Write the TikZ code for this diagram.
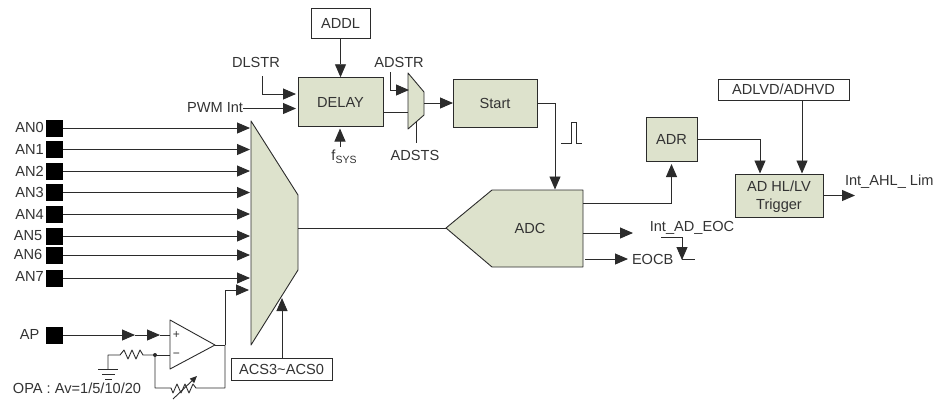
\documentclass[tikz,border=0pt]{standalone}
\usepackage{fontspec}
\setmainfont{Liberation Sans}
\usetikzlibrary{arrows.meta,calc}
\definecolor{lineC}{HTML}{2B2B2B}
\definecolor{fillC}{HTML}{DDE2CC}
\definecolor{textC}{HTML}{333333}
\tikzset{
  base/.style={inner sep=0pt,outer sep=0pt,font=\fontsize{14.6}{16}\selectfont,text=textC},
  block/.style={base,draw=lineC,line width=0.9pt,fill=fillC,align=center},
  regbox/.style={base,draw=lineC,line width=0.9pt,fill=white},
  lbl/.style={base},
  pin/.style={base,fill=black,minimum width=17pt,minimum height=17pt},
  conn/.style={draw=lineC,line width=0.9pt},
  arr/.style={conn,-{Triangle[length=13pt,width=11pt]}},
  shp/.style={draw=lineC,line width=0.9pt,fill=fillC,line join=round},
}
\newcommand{\boxat}[7]{\node[#1,minimum width=#4pt,minimum height=#5pt] (#2) at (#6,#7) {#3};}
\begin{document}
\begin{tikzpicture}[x=1pt,y=-1pt]
\useasboundingbox (0,0) rectangle (934,400);
% pins
\foreach \n/\y/\lx/\ly in {0/128/29.5/127,1/149.5/29.5/149,2/171/29.5/171,3/192.5/29.5/192,4/214/29.5/214,5/236/28/235.5,6/255/28/254,7/278/29.5/276}{
  \node[pin] (pin\n) at (54.5,\y) {};
  \node[lbl] (lab\n) at (\lx,\ly) {AN\n};
  \coordinate (in\n) at (250,\y);
  \draw[arr] (pin\n.east |- in\n) -- (in\n);
}
\node[pin] (pinP) at (54.5,335) {};
\node[lbl] (labP) at (29.5,334) {AP};
% mux
\coordinate (m1) at (251,121);\coordinate (m2) at (298,195);\coordinate (m3) at (298,270);\coordinate (m4) at (251,345);
\draw[shp] (m1)--(m2)--(m3)--(m4)--cycle;
\coordinate (mout) at (298,228);
% ADC
\coordinate (adcTip) at (446,228);
\draw[shp] (adcTip)--(492,190)--(583,190)--(583,267)--(492,267)--cycle;
\node[lbl] (adc) at (530,228) {ADC};
\draw[conn] (mout)--(adcTip);
% boxes
\boxat{regbox}{addl}{ADDL}{59}{30}{340.5}{23}
\boxat{block}{delay}{DELAY}{85}{49.5}{340.5}{102}
\boxat{block}{start}{Start}{84}{48}{495}{103}
\boxat{block}{adr}{ADR}{51}{44}{671.5}{139}
\boxat{regbox}{adlvd}{ADLVD/ADHVD}{131}{21}{783.5}{89.5}
\boxat{block}{trig}{\rule{0pt}{13pt}AD HL/LV\\[2pt]Trigger}{88}{43}{779}{195.5}
\boxat{regbox}{acs}{ACS3\textasciitilde ACS0}{101}{22}{281.5}{369}
% labels
\node[lbl] (dlstr) at (256,62) {DLSTR};
\node[lbl,anchor=east] (pwm) at (243,108) {PWM Int};
\node[lbl] (fsys) at (344,157) {f\raisebox{-2.5pt}{\fontsize{10.5}{12}\selectfont SYS}};
\node[lbl] (adstr) at (399,62) {ADSTR};
\node[lbl] (adsts) at (415,155) {ADSTS};
\node[lbl,anchor=west] (iahl) at (845,182) {Int\_AHL\_ Lim};
\node[lbl] (iad) at (692,228) {Int\_AD\_EOC};
\node[lbl,anchor=west] (eocb) at (632,259) {EOCB};
\node[lbl] (opa) at (77,388) {OPA : Av=1/5/10/20};
% top connectors
\draw[arr] (addl.south)--(delay.north);
\coordinate (dl0) at (262,76);\coordinate (dlIn) at (296,94);
\draw[arr] (dl0)|-(dlIn);
\coordinate (pwmIn) at (296,108.5);
\draw[arr] (pwm.east |- pwmIn)--(pwmIn);
\coordinate (fsTop) at (340,147);\coordinate (fsEnd) at (340,128.5);
\draw[arr] (fsTop)--(fsEnd);
% mux2
\coordinate (a1) at (408,73);\coordinate (a2) at (424,92);\coordinate (a3) at (424,115);\coordinate (a4) at (408,129);
\draw[shp] (a1)--(a2)--(a3)--(a4)--cycle;
\coordinate (aIn) at (408,112);
\draw[conn] (delay.east |- aIn)--(aIn);
\coordinate (as0) at (390.5,72);\coordinate (asIn) at (409,90);
\draw[arr] (as0)|-(asIn);
\coordinate (st0) at (416,122);\coordinate (st1) at (416,143);
\draw[conn] (st0)--(st1);
\coordinate (aOut) at (424,103);
\draw[arr] (aOut)--(start.west |- aOut);
% start to adc
\coordinate (adcIn) at (555,189.5);
\draw[arr] (start.east) -| (adcIn);
\coordinate (p0) at (561,143.5);
\draw[conn] (p0)--++(10,0)--++(0,-21.5)--++(5,0)--++(0,21.5)--++(6,0);
% adc outputs
\coordinate (adcA) at (583,203);\coordinate (adrIn) at (671.5,164);
\draw[arr] (adcA) -| (adrIn);
\coordinate (o1a) at (583,233);\coordinate (o1b) at (633,233);
\draw[arr] (o1a)--(o1b);
\coordinate (o2a) at (585,259);\coordinate (o2b) at (628,259);
\draw[arr] (o2a)--(o2b);
\coordinate (eoc0) at (661,237);\coordinate (eoc1) at (682,260);\coordinate (eoc2) at (695,259);
\draw[conn] (eoc0)--(682,237);
\draw[arr] (682,237)--(eoc1);
\draw[conn] (682,259)--(eoc2);
% trigger
\coordinate (trA) at (760,173.5);
\draw[arr] (adr.east) -| (trA);
\coordinate (trB) at (802,173.5);
\draw[arr] (adlvd.south -| trB)--(trB);
\coordinate (trOut) at (855,195.5);
\draw[arr] (trig.east)--(trOut);
% ACS
\coordinate (acsEnd) at (282,298);
\draw[arr] (acs.north -| acsEnd)--(acsEnd);
% opamp
\coordinate (o1) at (170,320);\coordinate (o2) at (215,345);\coordinate (o3) at (170,369);
\draw[draw=lineC,line width=0.9pt,fill=white,line join=round] (o1)--(o2)--(o3)--cycle;
\node[base,font=\fontsize{12}{12}\selectfont] (plus) at (176.5,335) {+};
\node[base,font=\fontsize{12}{12}\selectfont] (minus) at (176.5,355) {\textminus};
\coordinate (ap1) at (135,335);\coordinate (ap2) at (160,335);\coordinate (ap3) at (170,335);
\draw[arr] (pinP.east)--(ap1);
\draw[arr] (ap1)--(ap2);
\draw[conn] (ap2)--(ap3);
\coordinate (fbJ) at (225,345);\coordinate (muxIn) at (249,290);
\draw[conn] (o2)--(fbJ);
\draw[arr] (fbJ)|-(muxIn);
% feedback
\coordinate (dot) at (155,355);
\fill[lineC] (dot) circle (2pt);
\draw[conn] (dot)--(170,355);
\draw[conn,line join=round] (225,345)--(225,388)--(196,388)--(193,384)--(189,393)--(185,384)--(181,393)--(177,384)--(173,393)--(171,388)--(155,388)--(dot);
\draw[conn,-{Triangle[length=7pt,width=6pt]}] (173,399)--(197,376);
\draw[conn,line join=round] (dot)--(143,355)--(140,350)--(136,359)--(132,350)--(128,359)--(124,350)--(120,355)--(108,355)--(108,369);
\draw[conn] (98,369)--(118,369) (102,374)--(115,374) (105,379)--(112,379);
\end{tikzpicture}
\end{document}
